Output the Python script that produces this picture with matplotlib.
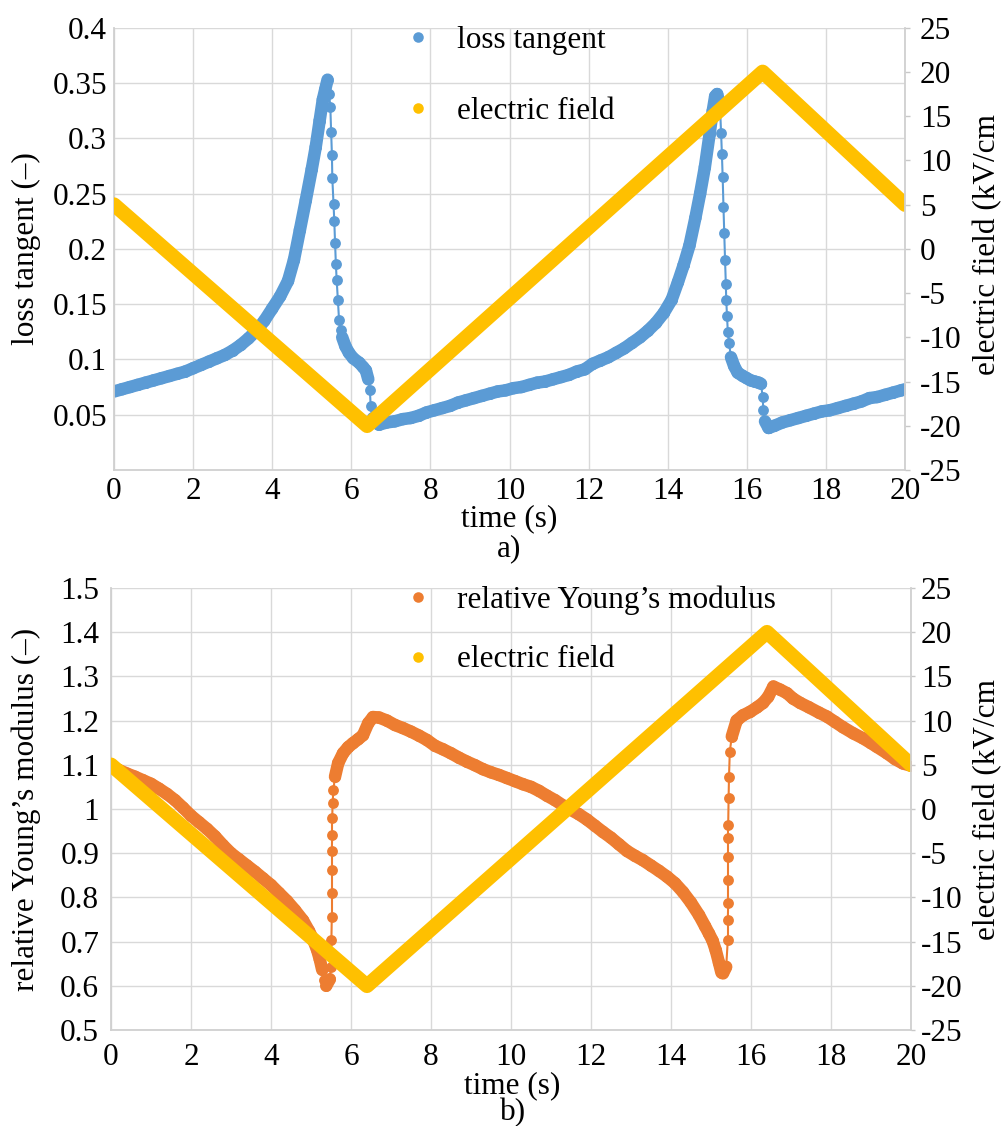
import matplotlib
matplotlib.use("Agg")
import matplotlib.pyplot as plt
from matplotlib.lines import Line2D
from matplotlib.collections import LineCollection
import numpy as np

plt.rcParams['font.family'] = ['Liberation Serif', 'DejaVu Serif']
plt.rcParams['axes.unicode_minus'] = False
FS = 22.5

# ---------------- data: panel a) ----------------
loss_t = [0.0, 0.2, 0.4, 0.6, 0.8, 1.0, 1.2, 1.4, 1.6, 1.8, 2.0, 2.2, 2.4, 2.6, 2.8,
          3.0, 3.2, 3.4, 3.6, 3.8, 4.0, 4.2, 4.4, 4.55, 4.7, 4.85, 5.0, 5.1, 5.2, 5.28,
          5.34, 5.4,
          5.44, 5.47, 5.49, 5.51, 5.52, 5.55, 5.57, 5.59, 5.61, 5.63, 5.66, 5.69, 5.73,
          5.77, 5.85, 5.94, 6.05, 6.2, 6.3, 6.37, 6.43, 6.47, 6.49, 6.53, 6.57,
          6.7, 6.9, 7.1, 7.3, 7.5, 7.7, 7.9, 8.1, 8.3, 8.5, 8.7, 8.9, 9.1, 9.3, 9.5,
          9.7, 9.9, 10.1, 10.3, 10.5, 10.7, 10.9, 11.1, 11.3, 11.5, 11.7, 11.9, 12.1,
          12.3, 12.5, 12.7, 12.9, 13.1, 13.3, 13.5, 13.7, 13.9, 14.1, 14.26, 14.4,
          14.55, 14.7, 14.82, 14.94, 15.06, 15.14, 15.2, 15.25,
          15.32, 15.35, 15.37, 15.39, 15.41, 15.43, 15.45, 15.47, 15.48, 15.5, 15.52,
          15.55, 15.6, 15.68, 15.77, 15.9, 16.0, 16.1, 16.2, 16.3, 16.36, 16.4, 16.42,
          16.46, 16.55,
          16.7, 16.9, 17.1, 17.3, 17.5, 17.7, 17.9, 18.1, 18.3, 18.5, 18.7, 18.9, 19.1,
          19.3, 19.5, 19.7, 19.9, 20.0]
loss_tangent = [0.071, 0.073, 0.075, 0.077, 0.079, 0.081, 0.083, 0.085, 0.087, 0.089,
                0.092, 0.095, 0.098, 0.101, 0.104, 0.108, 0.113, 0.119, 0.126, 0.135,
                0.146, 0.157, 0.171, 0.190, 0.217, 0.244, 0.272, 0.292, 0.316, 0.335,
                0.344, 0.353,
                0.340, 0.328, 0.306, 0.285, 0.264, 0.241, 0.225, 0.205, 0.186, 0.172,
                0.154, 0.136, 0.127, 0.120, 0.112, 0.106, 0.101, 0.097, 0.093, 0.090,
                0.082, 0.072, 0.058, 0.048, 0.044,
                0.041, 0.043, 0.044, 0.046, 0.047, 0.049, 0.052, 0.054, 0.056, 0.058,
                0.061, 0.063, 0.065, 0.067, 0.069, 0.071, 0.072, 0.074, 0.075, 0.077,
                0.079, 0.080, 0.082, 0.084, 0.086, 0.089, 0.091, 0.096, 0.099, 0.102,
                0.106, 0.110, 0.115, 0.120, 0.126, 0.133, 0.142, 0.154, 0.170, 0.185,
                0.203, 0.228, 0.250, 0.274, 0.304, 0.325, 0.338, 0.340,
                0.330, 0.305, 0.286, 0.265, 0.238, 0.214, 0.190, 0.168, 0.154, 0.139,
                0.125, 0.115, 0.102, 0.094, 0.088, 0.085, 0.083, 0.081, 0.080, 0.079,
                0.078, 0.066, 0.054, 0.044, 0.038,
                0.040, 0.043, 0.045, 0.047, 0.049, 0.051, 0.053, 0.054, 0.056, 0.058,
                0.060, 0.062, 0.065, 0.066, 0.068, 0.070, 0.072, 0.073]

field_t_a = [0.0, 6.4, 16.4, 20.0]
field_a = [5.0, -20.0, 20.0, 5.0]

# ---------------- data: panel b) ----------------
young_t = [0.0, 0.2, 0.4, 0.6, 0.8, 1.0, 1.2, 1.4, 1.6, 1.8, 2.0, 2.2, 2.4, 2.6, 2.8,
           3.0, 3.2, 3.4, 3.6, 3.8, 4.0, 4.2, 4.4, 4.6, 4.8, 4.95, 5.05, 5.15, 5.22,
           5.28, 5.33, 5.38,
           5.47, 5.5, 5.51, 5.52, 5.52, 5.52, 5.52, 5.53, 5.53, 5.54, 5.56, 5.6, 5.68,
           5.8, 5.93, 6.05, 6.18, 6.3, 6.43, 6.55,
           6.7, 6.9, 7.1, 7.3, 7.5, 7.7, 7.9, 8.1, 8.3, 8.5, 8.7, 8.9, 9.1, 9.3, 9.5,
           9.7, 9.9, 10.1, 10.3, 10.5, 10.7, 10.9, 11.1, 11.3, 11.5, 11.7, 11.9, 12.1,
           12.3, 12.5, 12.7, 12.9, 13.1, 13.3, 13.5, 13.7, 13.9, 14.1, 14.3, 14.5,
           14.7, 14.85, 14.95, 15.04, 15.12, 15.2, 15.26, 15.3,
           15.38, 15.42, 15.42, 15.43, 15.43, 15.43, 15.43, 15.43, 15.44, 15.45,
           15.47, 15.52, 15.64, 15.8, 15.98, 16.15, 16.3, 16.43, 16.56, 16.73, 16.9,
           17.05, 17.23, 17.45, 17.7, 17.9, 18.1, 18.3, 18.56, 18.8, 19.0, 19.14,
           19.4, 19.6, 19.8, 20.0]
young_modulus = [1.095, 1.088, 1.080, 1.073, 1.065, 1.057, 1.046, 1.034, 1.020, 1.003,
                 0.985, 0.970, 0.955, 0.938, 0.918, 0.900, 0.886, 0.872, 0.858, 0.843,
                 0.828, 0.810, 0.792, 0.771, 0.748, 0.724, 0.705, 0.682, 0.660, 0.636,
                 0.612, 0.600,
                 0.615, 0.643, 0.704, 0.756, 0.810, 0.862, 0.905, 0.941, 0.979, 1.013,
                 1.043, 1.073, 1.104, 1.126, 1.140, 1.149, 1.158, 1.167, 1.194, 1.208,
                 1.207, 1.200, 1.190, 1.183, 1.175, 1.166, 1.156, 1.143, 1.135, 1.126,
                 1.116, 1.107, 1.099, 1.090, 1.083, 1.077, 1.070, 1.063, 1.056, 1.050,
                 1.041, 1.030, 1.020, 1.008, 0.998, 0.988, 0.976, 0.962, 0.948, 0.935,
                 0.920, 0.905, 0.894, 0.884, 0.872, 0.860, 0.847, 0.832, 0.812, 0.788,
                 0.760, 0.735, 0.718, 0.702, 0.680, 0.652, 0.630, 0.628,
                 0.643, 0.704, 0.749, 0.787, 0.839, 0.891, 0.935, 0.964, 1.025, 1.073,
                 1.130, 1.164, 1.200, 1.212, 1.220, 1.230, 1.240, 1.254, 1.277, 1.270,
                 1.262, 1.250, 1.240, 1.230, 1.218, 1.209, 1.197, 1.185, 1.171, 1.160,
                 1.149, 1.141, 1.126, 1.113, 1.103, 1.098]

field_t_b = [0.0, 6.4, 16.4, 20.0]
field_b = [5.0, -20.0, 20.0, 5.0]

# ---------------- tick labels ----------------
x_ticks = list(range(0, 21, 2))
loss_ticks = [0.05, 0.1, 0.15, 0.2, 0.25, 0.3, 0.35, 0.4]
loss_ticklabels = ['0.05', '0.1', '0.15', '0.2', '0.25', '0.3', '0.35', '0.4']
young_ticks = [0.5, 0.6, 0.7, 0.8, 0.9, 1.0, 1.1, 1.2, 1.3, 1.4, 1.5]
young_ticklabels = ['0.5', '0.6', '0.7', '0.8', '0.9', '1', '1.1', '1.2', '1.3', '1.4', '1.5']
field_ticks = list(range(-25, 26, 5))
field_ticklabels = [str(v) for v in field_ticks]

BLUE = '#5B9BD5'
ORANGE = '#ED7D31'
YELLOW = '#FFC000'
GRID = '#d9d9d9'

W, H = 1001, 1126
fig = plt.figure(figsize=(W / 100, H / 100), dpi=100)


def make_panel(left, right, top, bottom, xpad, ypad, rlen, rpad):
    ax = fig.add_axes([left / W, 1 - bottom / H, (right - left) / W, (bottom - top) / H])
    axr = ax.twinx()
    ax.set_xlim(0, 20)
    ax.set_xticks(x_ticks)
    ax.set_xticklabels([str(v) for v in x_ticks])
    ax.grid(True, color=GRID, lw=1.0)
    ax.set_axisbelow(True)
    for s in ['top', 'right']:
        ax.spines[s].set_visible(False)
    for s in ['left', 'bottom']:
        ax.spines[s].set_color('#d0d0d0')
        ax.spines[s].set_linewidth(1.3)
    ax.tick_params(axis='x', length=0, pad=xpad, labelsize=FS)
    ax.tick_params(axis='y', length=0, pad=ypad, labelsize=FS)
    for s in ['top', 'left', 'bottom']:
        axr.spines[s].set_visible(False)
    axr.spines['right'].set_color('#d0d0d0')
    axr.spines['right'].set_linewidth(1.3)
    axr.set_ylim(-25, 25)
    axr.set_yticks(field_ticks)
    axr.set_yticklabels(field_ticklabels)
    axr.tick_params(axis='y', length=rlen, width=1, color='#c8c8c8', pad=rpad, labelsize=FS)
    return ax, axr


def draw_series(ax, t, v, color):
    # dense stretches of the measured series render as a thick band of
    # overlapping markers; fast transitions show separate dots on a thin line
    t = np.asarray(t)
    v = np.asarray(v)
    segs = np.stack([np.column_stack([t[:-1], v[:-1]]),
                     np.column_stack([t[1:], v[1:]])], axis=1)
    widths = np.where(np.diff(t) >= 0.05, 9.0, 1.5)
    lc = LineCollection(segs, colors=color, linewidths=widths, capstyle='round',
                        joinstyle='round')
    ax.add_collection(lc)
    ax.plot(t, v, ls='none', marker='o', ms=7.8, color=color, markeredgewidth=0)


# ---------------- panel a ----------------
ax1, ax1r = make_panel(114, 905, 27.7, 470, 5.0, 5.0, 3.6, 7.2)
ax1.set_ylim(0, 0.4)
ax1.set_yticks(loss_ticks)
ax1.set_yticklabels(loss_ticklabels)
draw_series(ax1, loss_t, loss_tangent, BLUE)
ax1r.plot(field_t_a, field_a, color=YELLOW, lw=10.5, solid_capstyle='round',
          solid_joinstyle='round')
ax1.set_ylabel('loss tangent (–)', fontsize=FS)
ax1.yaxis.set_label_coords((41 - 114) / 791, 0.5)
ax1r.set_ylabel('electric field (kV/cm', fontsize=FS)
ax1r.yaxis.set_label_coords((973 - 114) / 791, 0.51)

h1 = [Line2D([], [], ls='none', marker='o', color=BLUE, ms=7.6, markeredgewidth=0),
      Line2D([], [], ls='none', marker='o', color=YELLOW, ms=7.6, markeredgewidth=0)]
ax1r.legend(h1, ['loss tangent', 'electric field'], loc='upper left',
            bbox_to_anchor=((402 - 114) / 791, (470 - 26) / 442.3), frameon=False,
            fontsize=FS, borderpad=0, borderaxespad=0, handlelength=1.0,
            handletextpad=0.75, labelspacing=1.34)

fig.text(509 / W, 1 - 519 / H, 'time (s)', ha='center', va='center', fontsize=FS)
fig.text(509 / W, 1 - 549 / H, 'a)', ha='center', va='center', fontsize=FS)

# ---------------- panel b ----------------
ax2, ax2r = make_panel(111, 911, 588, 1030, 9.4, 8.5, 2.9, 4.3)
ax2.set_ylim(0.5, 1.5)
ax2.set_yticks(young_ticks)
ax2.set_yticklabels(young_ticklabels)
draw_series(ax2, young_t, young_modulus, ORANGE)
ax2r.plot(field_t_b, field_b, color=YELLOW, lw=10.5, solid_capstyle='round',
          solid_joinstyle='round')
ax2.set_ylabel('relative Young’s modulus (–)', fontsize=FS)
ax2.yaxis.set_label_coords((41 - 111) / 800, 0.5)
ax2r.set_ylabel('electric field (kV/cm', fontsize=FS)
ax2r.yaxis.set_label_coords((973 - 111) / 800, 0.5)

h2 = [Line2D([], [], ls='none', marker='o', color=ORANGE, ms=7.6, markeredgewidth=0),
      Line2D([], [], ls='none', marker='o', color=YELLOW, ms=7.6, markeredgewidth=0)]
ax2r.legend(h2, ['relative Young’s modulus', 'electric field'], loc='upper left',
            bbox_to_anchor=((402 - 111) / 800, (1030 - 585) / 442), frameon=False,
            fontsize=FS, borderpad=0, borderaxespad=0, handlelength=1.0,
            handletextpad=0.75, labelspacing=0.99)

fig.text(512 / W, 1 - 1086 / H, 'time (s)', ha='center', va='center', fontsize=FS)
fig.text(513 / W, 1 - 1113 / H, 'b)', ha='center', va='center', fontsize=FS)

fig.savefig('out.png', dpi=100)
